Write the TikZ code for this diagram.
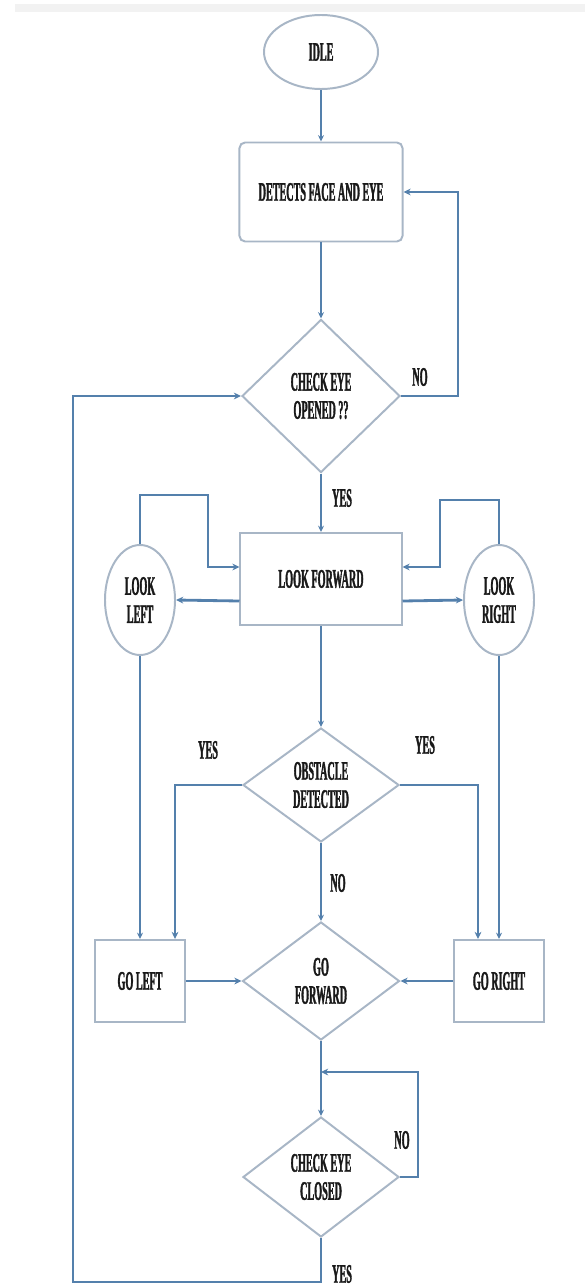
\documentclass[tikz,border=0pt]{standalone}
\usepackage{fontspec}
\usepackage{tikz}
\usetikzlibrary{shapes.geometric, arrows.meta, positioning, calc}
\newfontfamily\flowfont[FakeStretch=0.38, FakeBold=1.2]{Liberation Serif Bold}
\definecolor{flowblue}{RGB}{84, 128, 172}
\definecolor{edgegray}{RGB}{168, 182, 198}
\definecolor{inkdark}{RGB}{25, 25, 25}

\begin{document}
\begin{tikzpicture}[
    x=0.025cm, y=-0.025cm,
    font=\flowfont\fontsize{19}{20}\selectfont,
    term/.style={draw=edgegray, line width=1.4pt, ellipse, fill=white, text=inkdark, inner sep=0pt, align=center},
    proc/.style={draw=edgegray, line width=1.4pt, rectangle, fill=white, text=inkdark, align=center},
    dec/.style={draw=edgegray, line width=1.4pt, diamond, fill=white, text=inkdark, inner sep=0pt, align=center},
    arr/.style={-{Stealth[length=1.6mm, width=1.5mm]}, line width=0.8pt, flowblue},
    wire/.style={-{Stealth[length=1.8mm, width=1.7mm]}, line width=2pt, flowblue},
    lbl/.style={text=inkdark},
]
\useasboundingbox (0,0) rectangle (585,1287);
\fill[gray!10] (15,4) rectangle (585,12);

% --- Main column ---
\node[term, minimum width=2.85cm, minimum height=1.85cm] (idle) at (321,52) {IDLE};
\node[proc, rounded corners=4pt, minimum width=4.075cm, minimum height=2.475cm] (detect) at (321,192) {DETECTS FACE AND EYE};
\node[dec, minimum width=3.95cm, minimum height=3.825cm] (opened) at (321,396) {CHECK EYE\\OPENED ??};
\node[proc, minimum width=4.025cm, minimum height=2.3cm] (fwd) at (321,579) {LOOK FORWARD};
\node[dec, minimum width=3.9cm, minimum height=2.85cm] (obst) at (321,785) {OBSTACLE\\DETECTED};
\node[dec, minimum width=3.925cm, minimum height=2.95cm] (gofwd) at (321,981) {GO\\FORWARD};
\node[dec, minimum width=3.9cm, minimum height=3.0cm] (closed) at (321,1177) {CHECK EYE\\CLOSED};

% --- Side nodes ---
\node[term, minimum width=1.75cm, minimum height=2.75cm] (lleft) at (140,600) {LOOK\\LEFT};
\node[term, minimum width=1.75cm, minimum height=2.75cm] (lright) at (499,600) {LOOK\\RIGHT};
\node[proc, minimum width=2.25cm, minimum height=2.05cm] (gleft) at (140,981) {GO LEFT};
\node[proc, minimum width=2.25cm, minimum height=2.05cm] (gright) at (499,981) {GO RIGHT};

% --- Bend points ---
\coordinate (nobend) at (458,192);
\coordinate (lbend) at (208,495);
\coordinate (rbend) at (440,500);
\coordinate (closedbend) at (418,1072);
\coordinate (merge) at (321,1072);
\coordinate (backbend) at (73,1282);

% --- Down the column ---
\draw[arr] (idle.south) -- (detect.north);
\draw[arr] (detect.south) -- (opened.north);
\draw[arr] (opened.south) -- (fwd.north);
\draw[arr] (fwd.south) -- (obst.north);
\draw[arr] (obst.south) -- (gofwd.north);
\draw[arr] (gofwd.south) -- (closed.north);

% --- Eye not opened: detect again ---
\draw[wire] (opened.east) -| (nobend) -- (detect.east);

% --- Look left / right and back ---
\draw[wire] ([yshift=-0.55cm]fwd.west) -- (lleft.east);
\draw[wire] ([yshift=-0.55cm]fwd.east) -- (lright.west);
\draw[wire, line width=1.4pt] (lleft.north) |- (lbend) |- ([yshift=0.3cm]fwd.west);
\draw[wire, line width=1.4pt] (lright.north) |- (rbend) |- ([yshift=0.3cm]fwd.east);

% --- Obstacle branches ---
\draw[wire, line width=1.4pt] (obst.west) -| ([xshift=0.875cm]gleft.north);
\draw[wire, line width=1.4pt] (obst.east) -| ([xshift=-0.525cm]gright.north);
\draw[arr] (lleft.south) -- (gleft.north);
\draw[arr] (lright.south) -- (gright.north);
\draw[wire, line width=1.4pt] (gleft.east) -- (gofwd.west);
\draw[wire, line width=1.4pt] (gright.west) -- (gofwd.east);

% --- Eye closed check ---
\draw[wire] (closed.east) -| (closedbend) -- (merge);
\draw[wire, line width=1.4pt] (closed.south) |- (backbend) |- (opened.west);

% --- Labels ---
\node[lbl] (noopen) at (420,377) {NO};
\node[lbl] (yesopen) at (342,498) {YES};
\node[lbl] (yesleft) at (208,750) {YES};
\node[lbl] (yesright) at (425,745) {YES};
\node[lbl] (noobst) at (338,883) {NO};
\node[lbl] (noclosed) at (402,1140) {NO};
\node[lbl] (yesclosed) at (342,1274) {YES};

\end{tikzpicture}
\end{document}
